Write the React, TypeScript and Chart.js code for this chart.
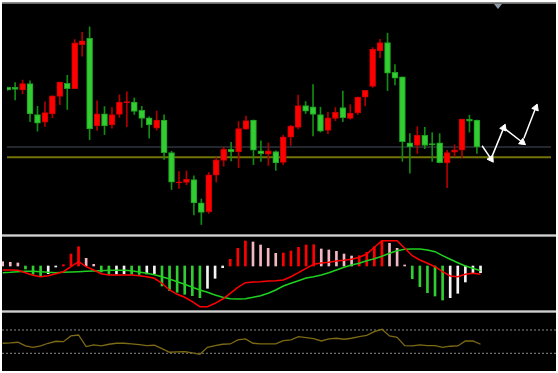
import React, { useEffect, useRef } from "react";
import { Chart, registerables } from "chart.js";

Chart.register(...registerables);

// ---------- Price panel (candles) ----------
const opens = [149, 149, 146.3, 153, 120.7, 112.7, 121.3, 139.7, 153.3, 147.7, 193.7, 200.3, 108.7, 121.3, 109.7, 120.7, 133, 133.7, 125, 117.3, 106.3, 115, 81, 49.3, 49.7, 52.7, 28.3, 19, 57.3, 72.7, 84.3, 81.7, 105.3, 115, 82.7, 79.3, 82, 70.7, 97, 107.3, 130, 128.7, 120.7, 104, 116.7, 128, 116.7, 122.3, 138.7, 150, 187.3, 196, 164.7, 160, 91, 88.3, 99, 90.3, 91, 70, 81.3, 83.3, 115.7, 115];
const highs = [149.5, 154, 156.7, 156, 129.3, 134, 140.3, 154.7, 161.7, 199, 206.7, 212.3, 135, 129, 128, 141.3, 144.3, 138, 129.3, 118.3, 124.3, 120.3, 82.3, 61, 61.7, 56.7, 32.3, 60, 75.7, 86.7, 91.7, 113.3, 119, 115, 93.3, 91, 82.7, 99, 109.3, 141, 134.3, 152, 128.3, 123, 128, 145.3, 131, 139, 146, 190.7, 199.3, 205.7, 173, 160, 100.7, 108, 107.3, 101.7, 100.7, 83.3, 89, 116, 120, 115];
const lows = [146, 136, 142.3, 113.3, 103.3, 108.3, 117.3, 131, 126, 147.7, 181.7, 94.3, 104, 99.7, 106.3, 117.7, 108, 120.7, 107.3, 96, 104.3, 73.7, 42.3, 43.3, 47.3, 15.7, 5.7, 17.3, 50, 66.7, 72.3, 65, 105, 68.3, 71.7, 67.3, 62.3, 68.3, 88.3, 105.7, 121.7, 98.3, 102.3, 100.7, 114.3, 113.3, 115.7, 120.7, 129.7, 149, 180, 145.7, 151.7, 71.7, 59.3, 80, 85, 71.7, 70, 44.3, 76.7, 75.7, 102.3, 80];
const closes = [146.3, 147, 153, 121.3, 111.7, 122.7, 140.3, 154.7, 147.7, 195.7, 197.7, 105.7, 121.3, 108.7, 120.7, 133.7, 134.3, 124, 116.7, 109.7, 115, 80.7, 50, 50.3, 53, 28.3, 18.3, 57.7, 73.3, 84.3, 81.7, 106, 114.3, 83.3, 79.7, 82.7, 70, 97.3, 108.7, 130, 124.3, 120.7, 103.3, 117.3, 123, 117.3, 122.3, 139, 146, 189, 196, 164, 158.7, 92.3, 86.7, 99, 88.3, 89, 70.3, 81, 83.7, 116, 113.7, 86.7];

// horizontal price levels: [slate line, olive line]
const priceLevels = [86.7, 76];

// drawn arrows: [fromBar, fromPrice, toBar, toPrice]
const arrowSegments = [
  [63.7, 88, 64.9, 74.3],
  [64.9, 74.3, 66.6, 106.7],
  [66.6, 106.7, 69.1, 91.7],
  [69.3, 95.7, 70.9, 127.7],
];

// ---------- MACD panel ----------
const macdHist = [4.3, 3.7, 3, -3, -8.3, -10, -7.7, -1, 1.3, 12, 19.3, 7.7, 1.7, -6, -8.3, -8.0, -7.8, -8.2, -8.5, -7.9, -7.6, -20, -24.7, -26.3, -28.3, -29.7, -31.7, -22.3, -12.3, -1.7, 6.7, 17.7, 25, 24, 21, 17.7, 12.7, 13, 15, 18.7, 21, 21.3, 17, 16, 14.7, 12, 10, 10.3, 13.7, 19.3, 25, 22.7, 17.7, 1, -12.7, -20.7, -26.7, -30, -34, -31.7, -27.3, -16, -7.3, -6.7];
const macdMain = [-4, -4, -4.3, -6.7, -9.3, -10.7, -9.7, -7.7, -5.7, -0.7, 4.3, -0.7, -4, -7.7, -9, -9, -9, -9, -9.7, -10.7, -12.3, -17.3, -24, -28.3, -31.3, -35.7, -40.7, -40.7, -37.3, -33, -27.3, -21.3, -16.7, -16, -15.7, -15, -14.7, -14, -10.7, -6.7, -2.3, 1.7, 3, 3.7, 5, 5.7, 6.7, 8.7, 12, 18.7, 25.3, 25.3, 25.3, 17.7, 10.3, 6, 2.7, -0.7, -5.7, -10, -10.7, -8.3, -7.3, -8.3];
const macdSignal = [-6.7, -6.3, -5.7, -5.3, -5.3, -5.7, -6.3, -6.7, -6.3, -6, -5.7, -5.3, -5, -4.7, -4.3, -4.3, -4.3, -4.7, -6, -7.3, -8.7, -10.7, -13, -15.7, -18.3, -21.3, -24, -26.3, -29, -31.3, -32.7, -33, -32.7, -31.3, -29.7, -27.3, -24, -20, -17.3, -14.7, -12, -10.7, -9, -6.7, -4, -1.3, 1, 2.7, 5.3, 7.3, 9.7, 12.7, 15.3, 16.7, 17, 17, 16, 14.3, 10.3, 6.7, 3.3, 0, -2.3, -4.7];

// ---------- RSI panel ----------
const rsi = [47.2, 47.7, 48.9, 42.6, 40.3, 42.6, 47.2, 50.6, 49.9, 59.7, 61.4, 41.4, 44.3, 42.6, 45.5, 47.2, 47.2, 46.0, 44.8, 43.1, 43.8, 37.9, 31.8, 32.3, 32.8, 30.6, 28.3, 40.3, 43.1, 45.5, 46.0, 52.9, 54.6, 47.2, 46.0, 46.0, 46.0, 51.7, 52.9, 58.5, 56.8, 55.1, 51.1, 54.6, 55.8, 54.1, 55.8, 58.5, 60.9, 67.1, 71.2, 59.7, 57.5, 43.1, 42.6, 44.3, 43.1, 43.1, 40.3, 42.1, 42.6, 51.1, 51.1, 45.5];
const rsiLevels = [70, 30];

const X_MIN = -0.092;
const X_MAX = 72.95;

const CANDLE_UP = "#ff0000";
const CANDLE_DOWN = "#32cd32";
const WICK_UP = "#b00000";
const WICK_DOWN = "#128c12";

function xScale(): any {
  return { type: "linear", min: X_MIN, max: X_MAX, offset: false, display: false, grid: { display: false } };
}

function baseOptions(ymin: number, ymax: number): any {
  return {
    responsive: false,
    animation: false,
    events: [],
    layout: { padding: 0 },
    plugins: { legend: { display: false }, tooltip: { enabled: false } },
    scales: {
      x: xScale(),
      y: { type: "linear", min: ymin, max: ymax, display: false, grid: { display: false } },
    },
  };
}

function hLine(value: number, color: string, width: number, dash: number[] = []): any {
  return {
    type: "line",
    data: [
      { x: X_MIN, y: value },
      { x: X_MAX, y: value },
    ],
    borderColor: color,
    borderWidth: width,
    borderDash: dash,
    pointRadius: 0,
    order: 20,
  };
}

function seriesLine(values: number[], color: string, width: number, order: number): any {
  return {
    type: "line",
    data: values.map((v, i) => ({ x: i, y: v })),
    borderColor: color,
    borderWidth: width,
    pointRadius: 0,
    tension: 0,
    order,
  };
}

function histColor(i: number): string {
  const v = macdHist[i];
  const prev = i > 0 ? macdHist[i - 1] : v;
  if (v >= 0) return v > prev ? "#ff0000" : "#f2b8c2";
  return v < prev ? "#32cd32" : "#f4f4f4";
}

function mainConfig(): any {
  const isUp = (i: number) => closes[i] >= opens[i];
  return {
    type: "bar",
    data: {
      datasets: [
        hLine(priceLevels[0], "#46505c", 1),
        hLine(priceLevels[1], "#737306", 2),
        {
          type: "bar",
          data: closes.map((_, i) => ({ x: i, y: [lows[i], highs[i]] })),
          backgroundColor: (c: any) => (isUp(c.dataIndex) ? WICK_UP : WICK_DOWN),
          barThickness: 1,
          grouped: false,
          order: 3,
        },
        {
          type: "bar",
          data: closes.map((_, i) => ({ x: i, y: [opens[i], closes[i]] })),
          backgroundColor: (c: any) => (isUp(c.dataIndex) ? CANDLE_UP : CANDLE_DOWN),
          borderColor: (c: any) => (isUp(c.dataIndex) ? "#c80000" : "#1e9e1e"),
          borderWidth: 1,
          borderSkipped: false,
          barThickness: 6,
          grouped: false,
          order: 2,
        },
        ...arrowSegments.map((s) => ({
          type: "line",
          data: [
            { x: s[0], y: s[1] },
            { x: s[2], y: s[3] },
          ],
          borderColor: "#ffffff",
          borderWidth: 1.5,
          pointStyle: "triangle",
          pointRadius: (c: any) => (c.dataIndex === 1 ? 4 : 0),
          pointBackgroundColor: "#ffffff",
          pointBorderColor: "#ffffff",
          pointBorderWidth: 1,
          pointRotation: (c: any) => {
            const chart = c.chart;
            if (!chart || !chart.scales || !chart.scales.x) return 0;
            const xs = chart.scales.x;
            const ys = chart.scales.y;
            const dx = xs.getPixelForValue(s[2]) - xs.getPixelForValue(s[0]);
            const dy = ys.getPixelForValue(s[3]) - ys.getPixelForValue(s[1]);
            return (Math.atan2(dx, -dy) * 180) / Math.PI;
          },
          order: 0,
        })),
      ],
    },
    options: baseOptions(1, 231),
  };
}

function macdConfig(): any {
  return {
    type: "bar",
    data: {
      datasets: [
        {
          type: "bar",
          data: macdHist.map((v, i) => ({ x: i, y: v })),
          backgroundColor: (c: any) => histColor(c.dataIndex),
          barThickness: 2,
          grouped: false,
          order: 5,
        },
        seriesLine(macdSignal, "#1fd01f", 1.5, 2),
        seriesLine(macdMain, "#ff0000", 1.5, 1),
      ],
    },
    options: baseOptions(-44, 29),
  };
}

function rsiConfig(): any {
  return {
    type: "line",
    data: {
      datasets: [
        ...rsiLevels.map((l) => hLine(l, "#8a8a8a", 1, [2, 2])),
        seriesLine(rsi, "#7d6a14", 1.3, 1),
      ],
    },
    options: baseOptions(-0.43, 100.86),
  };
}

const sep: React.CSSProperties = {
  position: "absolute",
  left: 0,
  width: 554,
  height: 3,
  background: "linear-gradient(#6e6e6e, #d0d0d0, #6e6e6e)",
  zIndex: 2,
};

export default function App() {
  const mainRef = useRef<HTMLCanvasElement>(null);
  const macdRef = useRef<HTMLCanvasElement>(null);
  const rsiRef = useRef<HTMLCanvasElement>(null);

  useEffect(() => {
    const charts: Chart[] = [];
    if (mainRef.current) charts.push(new Chart(mainRef.current, mainConfig()));
    if (macdRef.current) charts.push(new Chart(macdRef.current, macdConfig()));
    if (rsiRef.current) charts.push(new Chart(rsiRef.current, rsiConfig()));
    return () => charts.forEach((c) => c.destroy());
  }, []);

  return (
    <div
      style={{
        position: "absolute",
        left: 2,
        top: 2,
        width: 554,
        height: 369,
        background: "#000",
        overflow: "hidden",
      }}
    >
      <div
        style={{
          position: "absolute",
          left: 0,
          top: 0,
          width: 554,
          height: 2,
          background: "linear-gradient(#9a9a9a, #5c5c5c)",
          zIndex: 2,
        }}
      />
      <div
        style={{
          position: "absolute",
          left: 492,
          top: 2,
          width: 0,
          height: 0,
          borderLeft: "4px solid transparent",
          borderRight: "4px solid transparent",
          borderTop: "5px solid #8c9aa8",
          zIndex: 3,
        }}
      />
      <canvas ref={mainRef} width={554} height={230} style={{ position: "absolute", left: 0, top: 2 }} />
      <div style={{ ...sep, top: 232 }} />
      <canvas ref={macdRef} width={554} height={73} style={{ position: "absolute", left: 0, top: 235 }} />
      <div style={{ ...sep, top: 308 }} />
      <canvas ref={rsiRef} width={554} height={59} style={{ position: "absolute", left: 0, top: 310 }} />
    </div>
  );
}
